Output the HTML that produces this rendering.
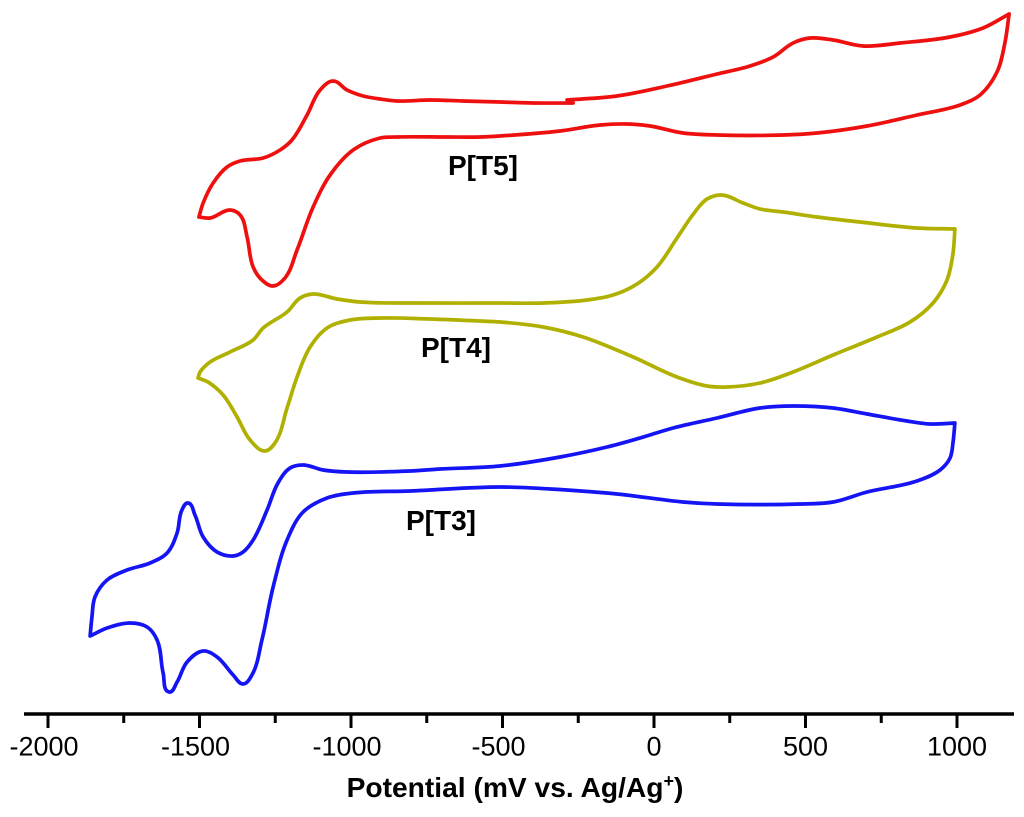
<!DOCTYPE html>
<html lang="en">
<head>
<meta charset="utf-8">
<title>Cyclic voltammograms of P[T3], P[T4] and P[T5]</title>
<style>
  html, body { margin: 0; padding: 0; background: #fff; }
  #chart { display: block; width: 1024px; height: 817px; font-family: "Liberation Sans", sans-serif; }
  .tick-label { font-size: 27px; fill: #000; text-anchor: middle; }
  .axis-title { font-size: 28.2px; font-weight: bold; fill: #000; text-anchor: middle; }
  .series-label { font-size: 28px; font-weight: bold; fill: #000; }
</style>
</head>
<body>
<svg id="chart" xmlns="http://www.w3.org/2000/svg" width="1024" height="817" viewBox="0 0 1024 817">
  <g id="series"></g>
  <g id="axis"></g>
  <text class="axis-title" x="515" y="797">Potential (mV vs. Ag/Ag<tspan font-size="18" dy="-10">+</tspan><tspan dy="10">)</tspan></text>
  <text class="series-label" x="448" y="175">P[T5]</text>
  <text class="series-label" x="421" y="357">P[T4]</text>
  <text class="series-label" x="406" y="530">P[T3]</text>
</svg>
<script>
// Axis ticks (mV)
const majorTicks = [-2000, -1500, -1000, -500, 0, 500, 1000];
const minorTicks = [-1750, -1250, -750, -250, 250, 750];
const tickLabels = ["-2000", "-1500", "-1000", "-500", "0", "500", "1000"];

// P[T5] (offset current, arbitrary units)
const t5SweepDownV = [1172,1086,977,812,690,591,515,459,393,317,208,43,-122,-287,-267,-399,-508,-630,-739,-848,-904,-960,-1013,-1059,-1102,-1145,-1195,-1234,-1290,-1366,-1409,-1455,-1488,-1502];
const t5SweepDownI = [700,686,677,671,668,674,676,671,657,648,640,628,618,614,611,611,612,613,614,613,615,618,624,633,624,599,574,564,556,553,547,531,511,497];
const t5SweepUpV = [-1502,-1465,-1399,-1366,-1343,-1323,-1294,-1257,-1218,-1178,-1125,-1069,-993,-904,-848,-683,-574,-508,-310,-178,-89,-13,96,208,426,538,703,868,1010,1076,1132,1158,1172];
const t5SweepUpI = [497,496,504,499,477,447,434,428,436,464,507,539,564,576,577,577,577,578,583,589,590,588,581,579,579,581,588,599,609,619,642,671,700];

// P[T4]
const t4SweepDownV = [993,868,680,538,426,350,294,224,175,135,76,10,-56,-135,-221,-366,-508,-772,-970,-1046,-1125,-1168,-1211,-1290,-1323,-1399,-1465,-1498,-1505];
const t4SweepDownI = [485,486,492,497,502,505,511,519,515,502,476,447,430,419,414,411,411,411,412,415,420,416,402,386,374,362,352,342,336];
const t4SweepUpV = [-1505,-1472,-1422,-1376,-1333,-1284,-1251,-1211,-1178,-1135,-1079,-1003,-904,-739,-574,-508,-366,-234,-69,76,175,241,350,459,591,736,845,921,967,987,993];
const t4SweepUpI = [336,332,319,297,274,263,271,306,337,367,386,394,396,395,393,392,387,377,357,337,328,327,331,342,359,377,392,411,434,461,485];

// P[T3]
const t3SweepDownV = [993,911,835,703,591,459,350,208,63,-46,-155,-310,-508,-706,-805,-1013,-1092,-1158,-1201,-1241,-1277,-1323,-1356,-1389,-1442,-1488,-1515,-1538,-1558,-1574,-1607,-1663,-1739,-1805,-1845,-1855,-1861];
const t3SweepDownI = [291,290,293,300,306,308,306,296,286,276,267,257,248,245,243,242,244,249,246,231,204,174,162,158,162,177,199,211,204,181,161,151,144,134,117,97,78];
const t3SweepUpV = [-1861,-1805,-1729,-1673,-1640,-1620,-1600,-1574,-1541,-1488,-1442,-1389,-1356,-1327,-1294,-1257,-1211,-1158,-1079,-993,-805,-508,-343,-122,96,208,482,591,703,868,944,977,987,993];
const t3SweepUpI = [78,86,91,87,74,41,22,32,52,63,57,39,30,39,74,127,174,202,216,221,223,227,225,220,212,210,210,212,222,233,244,256,272,291];

const xScale = v => 654 + 0.303 * v;
const yScale = i => 714 - i;
const SVG_NS = "http://www.w3.org/2000/svg";

function unitVector(a, b) {
  const dx = b[0] - a[0];
  const dy = b[1] - a[1];
  const len = Math.hypot(dx, dy) || 1;
  return [dx / len, dy / len];
}

// Returns the incoming and outgoing tangent at point k; only a near-total reversal stays a corner.
function pointTangents(pts, k) {
  if (k === 0) {
    const u = unitVector(pts[0], pts[1]);
    return [u, u];
  }
  if (k === pts.length - 1) {
    const u = unitVector(pts[k - 1], pts[k]);
    return [u, u];
  }
  const a = unitVector(pts[k - 1], pts[k]);
  const b = unitVector(pts[k], pts[k + 1]);
  if (a[0] * b[0] + a[1] * b[1] < -0.85) return [a, b];
  const t = unitVector([0, 0], [a[0] + b[0], a[1] + b[1]]);
  return [t, t];
}

function smoothSegment(vs, is) {
  const pts = vs.map((v, k) => [xScale(v), yScale(is[k])]);
  let d = "";
  for (let k = 0; k < pts.length - 1; k++) {
    const p1 = pts[k];
    const p2 = pts[k + 1];
    const t1 = pointTangents(pts, k)[1];
    const t2 = pointTangents(pts, k + 1)[0];
    const h = Math.hypot(p2[0] - p1[0], p2[1] - p1[1]) / 3;
    d += "C" + (p1[0] + t1[0] * h).toFixed(2) + " " + (p1[1] + t1[1] * h).toFixed(2) + " " +
         (p2[0] - t2[0] * h).toFixed(2) + " " + (p2[1] - t2[1] * h).toFixed(2) + " " +
         p2[0].toFixed(2) + " " + p2[1].toFixed(2);
  }
  return { start: pts[0], d: d };
}

function loopPath(downV, downI, upV, upI) {
  const a = smoothSegment(downV, downI);
  const b = smoothSegment(upV, upI);
  return "M" + a.start[0].toFixed(2) + " " + a.start[1].toFixed(2) + a.d + b.d;
}

const seriesGroup = document.getElementById("series");

const curveT5 = document.createElementNS(SVG_NS, "path");


curveT5.setAttribute("d", loopPath(t5SweepDownV, t5SweepDownI, t5SweepUpV, t5SweepUpI));
curveT5.setAttribute("stroke", "#ee0f0f");
seriesGroup.appendChild(curveT5);

const curveT4 = document.createElementNS(SVG_NS, "path");


curveT4.setAttribute("d", loopPath(t4SweepDownV, t4SweepDownI, t4SweepUpV, t4SweepUpI));
curveT4.setAttribute("stroke", "#b0b000");
seriesGroup.appendChild(curveT4);

const curveT3 = document.createElementNS(SVG_NS, "path");


curveT3.setAttribute("d", loopPath(t3SweepDownV, t3SweepDownI, t3SweepUpV, t3SweepUpI));
curveT3.setAttribute("stroke", "#1414f5");
seriesGroup.appendChild(curveT3);

[curveT5, curveT4, curveT3].forEach(p => {
  p.setAttribute("fill", "none");
  p.setAttribute("stroke-width", "3.7");
  p.setAttribute("stroke-linejoin", "round");
  p.setAttribute("stroke-linecap", "round");
});

const axisGroup = document.getElementById("axis");

const axisLine = document.createElementNS(SVG_NS, "line");


axisLine.setAttribute("x1", 24);
axisLine.setAttribute("x2", 1014);
axisLine.setAttribute("y1", 714);
axisLine.setAttribute("y2", 714);
axisLine.setAttribute("stroke", "#000");
axisLine.setAttribute("stroke-width", "3.5");
axisGroup.appendChild(axisLine);

majorTicks.forEach((t, k) => {
  const tick = document.createElementNS(SVG_NS, "line");
  
  
  tick.setAttribute("x1", xScale(t));
  tick.setAttribute("x2", xScale(t));
  tick.setAttribute("y1", 714);
  tick.setAttribute("y2", 728);
  tick.setAttribute("stroke", "#000");
  tick.setAttribute("stroke-width", "3");
  axisGroup.appendChild(tick);

  const label = document.createElementNS(SVG_NS, "text");
  
  
  label.setAttribute("class", "tick-label");
  label.setAttribute("x", xScale(t) - (t < 0 ? 4 : 0));
  label.setAttribute("y", 755.5);
  label.textContent = tickLabels[k];
  axisGroup.appendChild(label);
});

minorTicks.forEach(t => {
  const tick = document.createElementNS(SVG_NS, "line");
  
  
  tick.setAttribute("x1", xScale(t));
  tick.setAttribute("x2", xScale(t));
  tick.setAttribute("y1", 714);
  tick.setAttribute("y2", 723);
  tick.setAttribute("stroke", "#000");
  tick.setAttribute("stroke-width", "3");
  axisGroup.appendChild(tick);
});
</script>
</body>
</html>
